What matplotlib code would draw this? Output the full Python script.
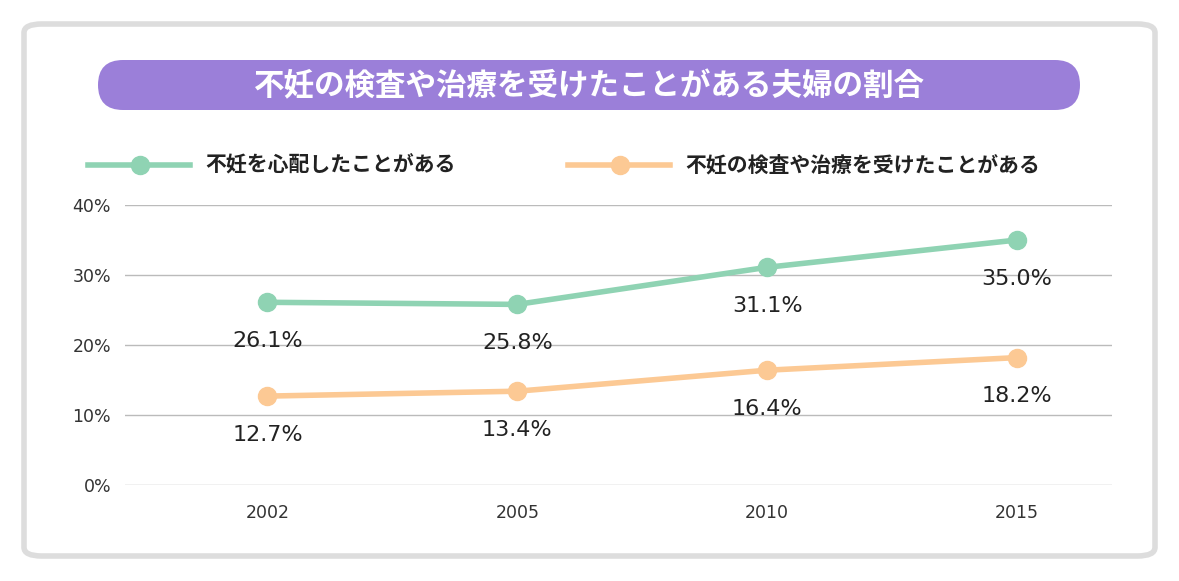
import matplotlib.pyplot as plt
from matplotlib.patches import FancyBboxPatch
from matplotlib.lines import Line2D

plt.rcParams['font.family'] = ['Noto Sans CJK JP', 'DejaVu Sans']

years = ['2002', '2005', '2010', '2015']
worried = [26.1, 25.8, 31.1, 35.0]
treated = [12.7, 13.4, 16.4, 18.2]
yticks = [0, 10, 20, 30, 40]
title = '不妊の検査や治療を受けたことがある夫婦の割合'
label_worried = '不妊を心配したことがある'
label_treated = '不妊の検査や治療を受けたことがある'

green = '#8fd3b3'
orange = '#fcc994'
purple = '#9b7fd9'

W, H = 1179, 581
fig = plt.figure(figsize=(W / 100, H / 100), dpi=100)


def fx(px):
    return px / W


def fy(py):
    return 1 - py / H


# outer frame (behind the axes)
fig.patches.append(FancyBboxPatch((fx(24), fy(556)), fx(1131), 532 / H,
                                  boxstyle='round,pad=0,rounding_size=0.015',
                                  transform=fig.transFigure, fc='white', ec='#dddddd',
                                  lw=4, zorder=-5))
# title pill, drawn in pixel units so the ends are round
fig.patches.append(FancyBboxPatch((98, H - 110), 982, 50,
                                  boxstyle='round,pad=0,rounding_size=25',
                                  transform=None, fc=purple, ec='none', zorder=-4))
fig.text(fx(589), fy(86), title, color='white', fontsize=22, fontweight='bold',
         ha='center', va='center')

# legend
for x0, col, lab in [(88, green, label_worried), (568, orange, label_treated)]:
    fig.add_artist(Line2D([fx(x0), fx(x0 + 102)], [fy(165)] * 2, color=col, lw=4,
                          transform=fig.transFigure))
    fig.add_artist(Line2D([fx(x0 + 52)], [fy(165)], marker='o', ms=13, color=col,
                          transform=fig.transFigure))
    fig.text(fx(x0 + 117), fy(165), lab, fontsize=15, fontweight='bold',
             va='center', color='#222222')

ax = fig.add_axes([fx(125), fy(485), fx(987), 280 / H])
ax.set_zorder(5)
ax.set_facecolor('none')
xs = range(len(years))
for vals, col in [(worried, green), (treated, orange)]:
    ax.plot(xs, vals, color=col, lw=4, marker='o', ms=13, zorder=3)
    for x, v in zip(xs, vals):
        ax.annotate(f'{v:.1f}%', (x, v), xytext=(0, -28), textcoords='offset points',
                    ha='center', va='center', fontsize=16, color='#222222',
                    family='DejaVu Sans')
ax.set_xlim(-0.57, 3.38)
ax.set_ylim(0, 40)
ax.set_yticks(yticks)
ax.set_yticklabels([f'{t}%' for t in yticks], fontsize=12.5, family='DejaVu Sans')
ax.set_xticks(list(xs))
ax.set_xticklabels(years, fontsize=12.5, family='DejaVu Sans')
ax.grid(axis='y', color='#bbbbbb', lw=1)
ax.set_axisbelow(True)
for s in ax.spines.values():
    s.set_visible(False)
ax.tick_params(length=0, colors='#333333')
ax.tick_params(axis='x', pad=14)
ax.tick_params(axis='y', pad=10)

fig.savefig('out.png', dpi=100)
